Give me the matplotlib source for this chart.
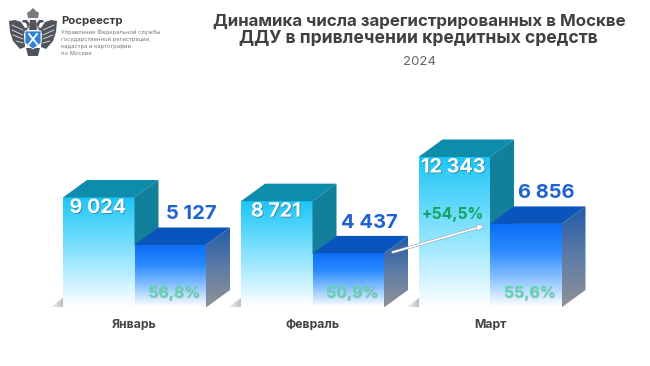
import numpy as np
import matplotlib
matplotlib.use('Agg')
from matplotlib import pyplot as plt
from matplotlib.colors import LinearSegmentedColormap
from matplotlib.patches import Polygon
import matplotlib.patheffects as pe

plt.rcParams['font.family'] = ['Inter', 'Liberation Sans', 'DejaVu Sans']

months = ['Январь', 'Февраль', 'Март']
total = [9024, 8721, 12343]
credit = [5127, 4437, 6856]
total_labels = ['9 024', '8 721', '12 343']
credit_labels = ['5 127', '4 437', '6 856']
share_labels = ['56,8%', '50,9%', '55,6%']
growth_label = '+54,5%'

W, H = 650, 366
base_px = 307.5
px_per_unit = 150.5 / 12343
bar_w = 71.5
dx = 24
left = [63, 241, 418.5]


def py(v):
    # pixels -> value units, y axis is in the units of the data
    return (base_px - v) / px_per_unit


fig = plt.figure(figsize=(6.5, 3.66), dpi=100)
ax = fig.add_axes([0, 0, 1, 1])
ax.set_xlim(0, W)
ax.set_ylim(py(H), py(0))
ax.axis('off')
dy = 17.5 / px_per_unit


def grad(poly, x0, x1, y0, y1, colors, z=2, horizontal=False):
    cmap = LinearSegmentedColormap.from_list('g', colors)
    n = np.linspace(0, 1, 256)
    img = n.reshape(1, -1) if horizontal else n.reshape(-1, 1)
    im = ax.imshow(img, extent=(x0, x1, y0, y1), origin='lower' if not horizontal else 'upper',
                   cmap=cmap, aspect='auto', zorder=z, interpolation='bilinear')
    p = Polygon(poly, closed=True, transform=ax.transData, fc='none', ec='none')
    ax.add_patch(p)
    im.set_clip_path(p)


# colours go from the bottom of the face to the top
big_front = ['#ffffff', '#b0ecff', '#62d9fc', '#1cc4f5']
small_front = ['#ffffff', '#8cc4ff', '#2b8aff', '#0a6cf5']
small_side = ['#8f9296', '#5d7ba6', '#1f5aa8']

for i in range(3):
    x0 = left[i]
    x1 = x0 + bar_w
    x2 = x1 + bar_w
    t = total[i]
    c = credit[i]

    # shadow on the floor left of the pair
    grad([(x0 - 14, 0), (x0, 0), (x0, dy * 0.55)], x0 - 14, x0, 0, dy, ['#ffffff', '#bdbdbd'], z=1, horizontal=True)

    # tall block
    grad([(x0, 0), (x1, 0), (x1, t), (x0, t)], x0, x1, 0, t, big_front)
    ax.add_patch(Polygon([(x0, t), (x1, t), (x1 + dx, t + dy), (x0 + dx, t + dy)], fc='#0e8cab', ec='none', zorder=3))
    ax.add_patch(Polygon([(x1, t), (x1 + dx, t + dy), (x1 + dx, c), (x1, c)], fc='#127f9b', ec='none', zorder=3))

    # credit block
    grad([(x1, 0), (x2, 0), (x2, c), (x1, c)], x1, x2, 0, c, small_front, z=4)
    ax.add_patch(Polygon([(x1, c), (x2, c), (x2 + dx, c + dy), (x1 + dx, c + dy)], fc='#0a55bd', ec='none', zorder=4))
    grad([(x2, 0), (x2 + dx, dy), (x2 + dx, c + dy), (x2, c)], x2, x2 + dx, 0, c + dy, small_side, z=4)

    shadow = [pe.withSimplePatchShadow(offset=(0.6, -0.6), shadow_rgbFace='#226b85', alpha=0.7)]
    ax.text((x0 + x1) / 2 - 1, t - 10.5 / px_per_unit, total_labels[i], color='white', fontsize=14.2, fontweight='bold',
            ha='center', va='center', zorder=6, path_effects=shadow)
    ax.text((x1 + x2) / 2 + 21, c + 30.5 / px_per_unit, credit_labels[i], color='#1f63d2', fontsize=14.5, fontweight='bold',
            ha='center', va='center', zorder=6)
    ax.text((x1 + x2) / 2 + 4, py(293), share_labels[i], color='#5fd6ab', fontsize=11.4, fontweight='bold',
            ha='center', va='center', zorder=6,
            path_effects=[pe.withSimplePatchShadow(offset=(0.4, -0.4), shadow_rgbFace='#888888', alpha=0.5)])
    ax.text(x1, py(325), months[i], color='#444444', fontsize=8.8, fontweight='bold', ha='center', va='center')

ax.text(left[2] + bar_w / 2 - 1, py(214), growth_label, color='#12a45f', fontsize=11.3, fontweight='bold',
        ha='center', va='center', zorder=6)

# growth arrow between Feb and March
ax.annotate('', xy=(487, py(225)), xytext=(390, py(253)), zorder=7,
            arrowprops=dict(arrowstyle='-|>,head_width=0.12,head_length=0.3', color='white', lw=1.3,
                            path_effects=[pe.withStroke(linewidth=2, foreground='#8f9aa5')]))

# titles
ax.text(419, py(21), 'Динамика числа зарегистрированных в Москве', color='#404040', fontsize=12.2, fontweight='bold',
        ha='center', va='center')
ax.text(418.5, py(39), 'ДДУ в привлечении кредитных средств', color='#404040', fontsize=12.6, fontweight='bold',
        ha='center', va='center')
ax.text(419, py(62), '2024', color='#666666', fontsize=9.5, ha='center', va='center')

# logo text
ax.text(61, py(21), 'Росреестр', color='#3a3a3a', fontsize=8.2, fontweight='bold', va='center')
for k, s in enumerate(['Управление Федеральной службы', 'государственной регистрации,',
                       'кадастра и картографии', 'по Москве']):
    ax.text(61, py(32 + k * 7.1), s, color='#777777', fontsize=4.2, va='center')

# eagle, rough
eagle = '#50555b'
wing_l = [(29, 27), (25, 28), (21, 22), (15, 20), (9, 21), (10, 32), (13, 41), (20, 49), (25, 47), (24, 34)]
wing_r = [(66 - a, b) for a, b in wing_l]
for w, sgn in ((wing_l, 1), (wing_r, -1)):
    ax.add_patch(Polygon([(a, py(b)) for a, b in w], fc=eagle, ec='none', zorder=3))
    # feathers
    for x_a, y_a, x_b, y_b in [(12, 25, 23, 30), (12, 30, 23, 35), (13, 35, 23, 39), (16, 41, 23, 43)]:
        xa = x_a if sgn > 0 else 66 - x_a
        xb = x_b if sgn > 0 else 66 - x_b
        ax.plot([xa, xb], [py(y_a), py(y_b)], color='white', lw=0.5, zorder=4)
    # head looking outwards
    hx = [(30, 24), (27, 20), (23, 20), (22, 22), (26, 23), (28, 28)]
    ax.add_patch(Polygon([((a if sgn > 0 else 66 - a), py(b)) for a, b in hx], fc=eagle, ec='none', zorder=3))
ax.add_patch(Polygon([(a, py(b)) for a, b in [(30, 20), (36, 20), (37, 30), (29, 30)]], fc=eagle, ec='none', zorder=3))
ax.add_patch(Polygon([(a, py(b)) for a, b in [(30, 11), (33, 8), (36, 11), (39, 13), (38, 18), (28, 18), (27, 13)]],
                     fc='#777b80', ec='none', zorder=3))
ax.add_patch(Polygon([(a, py(b)) for a, b in [(26, 48), (40, 48), (38, 56), (28, 56)]], fc=eagle, ec='none', zorder=3))
ax.add_patch(Polygon([(a, py(b)) for a, b in [(25, 31), (41, 31), (41, 43), (33, 49), (25, 43)]], fc='#2f7fd6', ec='white', lw=0.6, zorder=5))
ax.plot([29, 37], [py(34), py(44)], color='white', lw=1.3, zorder=6)
ax.plot([37, 29], [py(34), py(44)], color='white', lw=1.3, zorder=6)

ax.set_xlim(0, W)
ax.set_ylim(py(H), py(0))
fig.savefig('out.png', dpi=100, facecolor='white')
